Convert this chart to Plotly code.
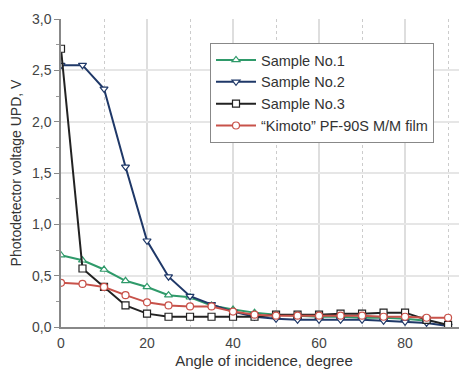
import plotly.graph_objects as go

angles = [0, 5, 10, 15, 20, 25, 30, 35, 40, 45, 50, 55, 60, 65, 70, 75, 80, 85, 90]
sample1 = [0.70, 0.65, 0.56, 0.45, 0.39, 0.31, 0.29, 0.21, 0.17, 0.14, 0.12, 0.11, 0.10, 0.10, 0.09, 0.09, 0.08, 0.06, None]
sample2 = [2.55, 2.55, 2.32, 1.56, 0.84, 0.49, 0.30, 0.22, 0.15, 0.10, 0.08, 0.07, 0.07, 0.07, 0.07, 0.06, 0.05, 0.04, 0.01]
sample3 = [2.71, 0.57, 0.39, 0.21, 0.13, 0.10, 0.10, 0.10, 0.10, 0.10, 0.12, 0.12, 0.12, 0.13, 0.13, 0.14, 0.14, 0.07, 0.02]
kimoto = [0.43, 0.42, 0.39, 0.31, 0.24, 0.21, 0.20, 0.20, 0.15, 0.12, 0.11, 0.11, 0.11, 0.11, 0.11, 0.10, 0.10, 0.09, 0.09]

names = ["Sample No.1", "Sample No.2", "Sample No.3", "\u201cKimoto\u201d PF-90S M/M film"]
series = [sample1, sample2, sample3, kimoto]
colors = ["#2f9a6a", "#1f3868", "#222222", "#c8524a"]
symbols = ["triangle-up", "triangle-down", "square", "circle"]

fig = go.Figure()
for name, ys, c, s in zip(names, series, colors, symbols):
    fig.add_trace(go.Scatter(
        x=angles, y=ys, name=name, mode="lines+markers",
        line=dict(color=c, width=2),
        marker=dict(symbol=s, size=7, color="white", line=dict(width=1.2, color=c)),
        connectgaps=False,
    ))

# page body has an 8px default margin; margins below compensate for it
font = "Liberation Sans, Arial, sans-serif"
fig.update_layout(
    width=467, height=373,
    margin=dict(l=53, r=8, t=11, b=54),
    paper_bgcolor="white", plot_bgcolor="white",
    separators=", ",
    font=dict(family=font, size=13, color="#444444"),
    showlegend=True,
    legend=dict(
        x=0.367, y=0.922, xanchor="left", yanchor="top",
        bgcolor="white", bordercolor="#888888", borderwidth=1,
        font=dict(size=14.5, color="#333333"),
        tracegroupgap=0, itemwidth=40,
    ),
    xaxis=dict(
        range=[0, 94.4], dtick=20, tick0=0, automargin=False,
        showgrid=True, gridcolor="#dedede", gridwidth=1.5,
        showline=True, linecolor="#888888", linewidth=1.5,
        ticks="", zeroline=False, ticklabelstandoff=2,
        minor=dict(dtick=10, showgrid=True, gridcolor="#cccccc", griddash="dot", gridwidth=1),
        title=dict(text="Angle of incidence, degree", font=dict(size=15, color="#333333"), standoff=6),
        tickfont=dict(size=14),
    ),
    yaxis=dict(
        range=[0, 3.0], dtick=0.5, tick0=0, tickformat=".1f", automargin=False,
        showgrid=True, gridcolor="#e6e6e6", gridwidth=1.5,
        showline=True, linecolor="#888888", linewidth=1.5,
        ticks="outside", ticklen=5, tickcolor="#888888", zeroline=False,
        minor=dict(dtick=0.25, ticks="outside", ticklen=3, tickcolor="#999999", showgrid=False),
        title=dict(text="Photodetector voltage UPD, V", font=dict(size=14, color="#333333"), standoff=8),
        tickfont=dict(size=14),
    ),
)

fig.write_html("out.html")
